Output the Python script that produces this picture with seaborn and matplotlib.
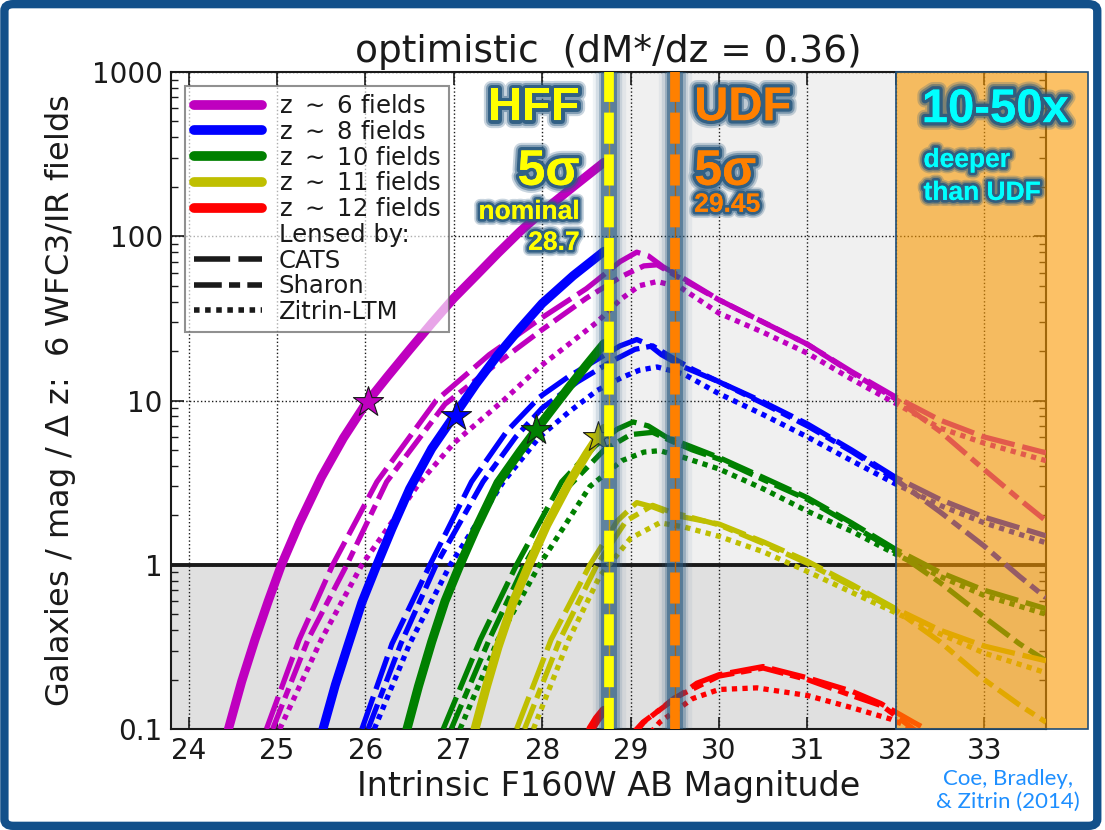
import matplotlib
matplotlib.use("Agg")
import matplotlib.pyplot as plt
import matplotlib.patheffects as pe
from matplotlib.lines import Line2D
from matplotlib.patches import Rectangle, FancyBboxPatch
from matplotlib.ticker import FuncFormatter
import seaborn as sns

sns.set_theme(style="ticks")
plt.rcParams["font.family"] = ["DejaVu Sans"]
plt.rcParams["mathtext.fontset"] = "dejavusans"
plt.rcParams["text.color"] = "black"
plt.rcParams["axes.labelcolor"] = "black"

# ---- data ----
z_labels = ["6", "8", "10", "11", "12"]
z_colors = ["#bf00bf", "#0000ff", "#008000", "#bfbf00", "#ff0000"]

# blank fields (solid)
fields_x = [
    [24.45, 24.6, 24.75, 24.9, 25.05, 25.25, 25.5, 25.75, 26.0, 26.25, 26.5, 26.75,
     27.0, 27.25, 27.5, 27.75, 28.0, 28.35, 28.7],
    [25.52, 25.66, 25.8, 25.96, 26.13, 26.3, 26.5, 26.75, 27.02, 27.25, 27.5, 27.75,
     28.0, 28.35, 28.7],
    [26.47, 26.6, 26.75, 26.9, 27.07, 27.25, 27.5, 27.75, 27.93, 28.1, 28.3, 28.5, 28.7],
    [27.24, 27.37, 27.5, 27.67, 27.85, 28.05, 28.31, 28.5, 28.63, 28.7],
    [28.55, 28.62, 28.7],
]
fields_y = [
    [0.1, 0.195, 0.35, 0.6, 1.0, 1.78, 3.4, 5.9, 9.5, 14, 20.4, 29.5,
     42, 57.5, 79, 107, 141, 200, 282],
    [0.1, 0.186, 0.32, 0.59, 1.0, 1.66, 2.9, 5.1, 8.3, 12.6, 19, 27.5,
     39, 57.5, 81],
    [0.1, 0.182, 0.34, 0.6, 1.0, 1.66, 3.16, 4.9, 6.6, 8.7, 12, 16.4, 22.2],
    [0.1, 0.182, 0.316, 0.59, 1.0, 1.74, 3.2, 4.7, 6.0, 6.76],
    [0.1, 0.115, 0.13],
]

# lensed by CATS
cats_x = [
    [24.88, 25.25, 25.63, 26.13, 26.8, 27.4, 28.0, 28.5, 28.62, 28.88, 29.07, 29.2, 29.37, 29.56, 30.0, 30.5, 31.0, 31.5, 32.0, 32.5, 33.0, 33.7],
    [25.96, 26.3, 26.73, 27.2, 27.6, 27.97, 28.3, 28.6, 28.88, 29.07, 29.2, 29.35, 29.6, 30.0, 30.5, 31.0, 31.5, 32.0, 32.5, 33.0, 33.7],
    [26.88, 27.3, 27.71, 28.22, 28.6, 28.85, 29.03, 29.2, 29.4, 29.7, 30.0, 30.5, 31.0, 31.5, 32.0, 32.5, 33.0, 33.7],
    [27.71, 28.1, 28.54, 28.85, 29.07, 29.25, 29.5, 30.0, 30.5, 31.0, 31.5, 32.0, 32.5, 33.0, 33.7],
    [28.95, 29.14, 29.45, 29.75, 30.0, 30.5, 31.0, 31.5, 31.83, 32.2, 32.5],
]
cats_y = [
    [0.1, 0.35, 1.0, 3.2, 10, 19, 32, 48, 54, 70, 80, 76, 65, 57, 41, 30, 22, 15, 10.5, 7.6, 6.0, 4.8],
    [0.1, 0.33, 1.0, 3.2, 6.5, 10.5, 14, 17.5, 21.5, 23.5, 22, 19, 16, 13, 9.8, 7.2, 5.0, 3.4, 2.5, 1.95, 1.5],
    [0.1, 0.35, 1.0, 3.2, 5.3, 6.7, 7.4, 7.0, 6.0, 5.2, 4.5, 3.4, 2.56, 1.8, 1.24, 0.9, 0.7, 0.54],
    [0.1, 0.35, 1.0, 1.85, 2.39, 2.25, 2.0, 1.77, 1.38, 1.05, 0.76, 0.54, 0.4, 0.32, 0.26],
    [0.085, 0.11, 0.146, 0.19, 0.214, 0.24, 0.205, 0.17, 0.143, 0.11, 0.09],
]

# lensed by Sharon
sharon_x = [
    [24.95, 25.35, 25.79, 26.24, 26.9, 27.5, 28.0, 28.5, 28.9, 29.15, 29.3, 29.5, 30.0, 30.5, 31.0, 31.5, 32.0, 32.5, 33.0, 33.4, 33.7],
    [26.03, 26.4, 26.8, 27.33, 27.7, 28.0, 28.4, 28.8, 29.05, 29.25, 29.45, 29.7, 30.0, 30.5, 31.0, 31.5, 32.0, 32.5, 33.0, 33.4, 33.7],
    [26.97, 27.4, 27.8, 28.3, 28.7, 29.0, 29.25, 29.45, 29.7, 30.0, 30.5, 31.0, 31.5, 32.0, 32.5, 33.0, 33.4, 33.7],
    [27.8, 28.2, 28.62, 28.95, 29.25, 29.45, 30.0, 30.5, 31.0, 31.5, 32.0, 32.5, 33.0, 33.4, 33.7],
    [28.98, 29.15, 29.5, 30.0, 30.5, 31.0, 31.5, 31.85, 32.2, 32.4],
]
sharon_y = [
    [0.1, 0.35, 1.0, 3.2, 9.5, 17, 27, 42, 57, 66, 67, 58, 41, 30, 22, 14.8, 10.2, 6.5, 3.8, 2.5, 1.85],
    [0.1, 0.33, 1.0, 3.2, 6.0, 9.0, 13, 17.5, 20.5, 21.5, 18.5, 15.5, 13, 9.6, 7.0, 4.9, 3.3, 2.1, 1.3, 0.85, 0.63],
    [0.1, 0.35, 1.0, 3.0, 5.0, 6.2, 6.4, 5.7, 5.0, 4.4, 3.3, 2.5, 1.75, 1.2, 0.78, 0.48, 0.33, 0.26],
    [0.1, 0.35, 1.0, 1.85, 2.3, 2.1, 1.75, 1.35, 1.02, 0.74, 0.53, 0.34, 0.2, 0.14, 0.11],
    [0.085, 0.11, 0.155, 0.21, 0.235, 0.2, 0.16, 0.138, 0.1, 0.085],
]

# lensed by Zitrin-LTM
zitrin_x = [
    [25.03, 25.5, 25.96, 26.62, 27.0, 27.56, 27.97, 28.3, 28.62, 28.88, 29.1, 29.3, 29.56, 30.0, 30.5, 31.0, 31.5, 32.0, 32.5, 33.0, 33.7],
    [26.1, 26.5, 26.96, 27.56, 27.97, 28.3, 28.62, 28.9, 29.1, 29.3, 29.6, 30.0, 30.5, 31.0, 31.5, 32.0, 32.5, 33.0, 33.7],
    [27.07, 27.5, 27.97, 28.54, 28.9, 29.15, 29.33, 29.6, 30.0, 30.5, 31.0, 31.5, 32.0, 32.5, 33.0, 33.7],
    [27.9, 28.3, 28.65, 29.0, 29.33, 29.6, 30.0, 30.5, 31.0, 31.5, 32.0, 32.5, 33.0, 33.7],
    [29.15, 29.33, 29.7, 30.0, 30.43, 31.0, 31.5, 31.94, 32.3],
]
zitrin_y = [
    [0.1, 0.35, 1.0, 3.2, 5.5, 10, 16, 22, 30, 41, 50, 53, 49, 34, 26, 19.4, 13.5, 9.6, 6.8, 5.5, 4.3],
    [0.1, 0.33, 1.0, 3.2, 6.0, 8.5, 11.5, 13.8, 15.3, 16, 14.5, 11, 8.2, 6.0, 4.3, 3.1, 2.3, 1.8, 1.36],
    [0.1, 0.35, 1.0, 3.0, 4.3, 4.85, 4.95, 4.5, 3.83, 2.9, 2.12, 1.6, 1.16, 0.85, 0.65, 0.5],
    [0.1, 0.35, 0.85, 1.45, 1.8, 1.7, 1.49, 1.2, 0.91, 0.68, 0.51, 0.38, 0.29, 0.22],
    [0.085, 0.11, 0.153, 0.174, 0.178, 0.16, 0.135, 0.115, 0.095],
]

# characteristic magnitudes (stars)
star_x = [26.03, 27.03, 27.93, 28.63]
star_y = [9.8, 8.1, 6.6, 6.0]

hff_limit = 28.75
udf_limit = 29.5
deep_limit = 32.0

# ---- styles ----
CATS_LS = (0, (6.5, 1.5))
SHARON_LS = (0, (5, 1.3, 2, 1.3))
ZITRIN_LS = (0, (1, 1))
GLOW = "#2a5a80"


def glow_effects(w=1.0):
    return [
        pe.withStroke(linewidth=11 * w, foreground=GLOW, alpha=0.25),
        pe.withStroke(linewidth=8 * w, foreground=GLOW, alpha=0.45),
        pe.withStroke(linewidth=5 * w, foreground=GLOW, alpha=0.9),
        pe.Normal(),
    ]


def draw_line(ax, x, y, color, lw, ls, z=3):
    sns.lineplot(x=x, y=y, ax=ax, color=color, lw=lw, linestyle=ls,
                 estimator=None, sort=False, zorder=z)


def draw_limit(ax, x, color, core):
    for w, a in [(24, 0.07), (19, 0.14), (15, 0.3), (11.5, 0.55)]:
        ax.axvline(x, color=GLOW, lw=w, alpha=a, zorder=5)
    ax.axvline(x, color=core, lw=1, zorder=5.5)
    ax.axvline(x, color=color, lw=7, linestyle=(0, (3.2, 1.1)), zorder=6)


def glow_text(ax, x, y, s, color, size, ha="left", w=1.0):
    ax.text(x, y, s, transform=ax.transAxes, color=color, fontsize=size,
            fontweight="bold", family=["Liberation Sans", "DejaVu Sans"],
            ha=ha, va="center", zorder=8, path_effects=glow_effects(w))


fig = plt.figure(figsize=(11.05, 8.3), dpi=100)
ax = fig.add_axes([171 / 1105, 1 - 729 / 830, 875 / 1105, 657 / 830])
ax.set_yscale("log")

# background shading
ax.axhspan(0.1, 1, color="#e0e0e0", lw=0, zorder=0.1)
ax.add_patch(Rectangle((hff_limit, 1), 33.7 - hff_limit, 999, color="#f0f0f0",
                       lw=0, zorder=0.1))
ax.grid(True, which="major", color="k", ls=":", lw=1)
ax.axhline(1, color="k", lw=2.8, zorder=2.6)

# curves
for i in range(len(z_labels)):
    c = z_colors[i]
    draw_line(ax, cats_x[i], cats_y[i], c, 3.8, CATS_LS)
    draw_line(ax, sharon_x[i], sharon_y[i], c, 3.8, SHARON_LS)
    draw_line(ax, zitrin_x[i], zitrin_y[i], c, 3.8, ZITRIN_LS)
    draw_line(ax, fields_x[i], fields_y[i], c, 6.5, "-", z=3.5)

for i in range(len(star_x)):
    sns.scatterplot(x=[star_x[i]], y=[star_y[i]], ax=ax, color=z_colors[i],
                    marker="*", s=520, edgecolor="k", linewidth=0.8, zorder=4)

# depth limits
draw_limit(ax, hff_limit, "#ffff00", "#c8a000")
draw_limit(ax, udf_limit, "#ff8000", "#b86000")

# 10-50x deeper region
ax.add_patch(Rectangle((deep_limit, 0.1), 2.17, 999.9, facecolor=(0.98, 0.6, 0.0, 0.6),
                       edgecolor="#1f4e79", lw=1.2, clip_on=False, zorder=7))

ax.set_xlim(23.8, 33.7)
ax.set_ylim(0.1, 1000)
ax.set_xticks(range(24, 34))
ax.xaxis.set_major_formatter(FuncFormatter(lambda v, p: f"{v:g}"))
ax.yaxis.set_major_formatter(FuncFormatter(lambda v, p: f"{v:g}"))
ax.tick_params(which="both", direction="in", top=True, right=True,
               labelsize=20, colors="k")
ax.tick_params(which="major", length=9, width=1.2, pad=6)
ax.tick_params(which="minor", length=5, width=1)
for sp in ax.spines.values():
    sp.set_linewidth(1.5)
    sp.set_color("k")

ax.set_title("optimistic  (dM*/dz = 0.36)", fontsize=27, pad=7, color="k")
ax.set_xlabel("Intrinsic F160W AB Magnitude", fontsize=24, labelpad=3, color="k")
ax.set_ylabel("Galaxies / mag / $\\Delta$ z:  6 WFC3/IR fields", fontsize=23,
              labelpad=10, color="k")

# annotations
glow_text(ax, 0.467, 0.945, "HFF", "#ffff00", 34, ha="right")
glow_text(ax, 0.467, 0.848, "5σ", "#ffff00", 36, ha="right")
glow_text(ax, 0.467, 0.787, "nominal", "#ffff00", 19, ha="right", w=0.8)
glow_text(ax, 0.467, 0.740, "28.7", "#ffff00", 19, ha="right", w=0.8)
glow_text(ax, 0.598, 0.945, "UDF", "#ff8000", 34)
glow_text(ax, 0.598, 0.848, "5σ", "#ff8000", 36)
glow_text(ax, 0.598, 0.798, "29.45", "#ff8000", 19, w=0.8)
glow_text(ax, 0.858, 0.942, "10-50x", "#00ffff", 34)
glow_text(ax, 0.860, 0.866, "deeper", "#00ffff", 19, w=0.8)
glow_text(ax, 0.860, 0.816, "than UDF", "#00ffff", 19, w=0.8)

# legend
handles = [Line2D([], [], color=c, lw=7) for c in z_colors]
labels = [f"z $\\sim$ {z} fields" for z in z_labels]
handles += [
    Line2D([], [], color="none"),
    Line2D([], [], color="k", lw=4, linestyle=CATS_LS),
    Line2D([], [], color="k", lw=4, linestyle=SHARON_LS),
    Line2D([], [], color="k", lw=4, linestyle=ZITRIN_LS),
]
labels += ["Lensed by:", "CATS", "Sharon", "Zitrin-LTM"]
leg = ax.legend(handles, labels, loc="upper left", bbox_to_anchor=(0.016, 0.979),
                borderaxespad=0, fontsize=17.5, handlelength=2.8, handletextpad=0.7,
                labelspacing=0.07, borderpad=0.35, framealpha=0.65, fancybox=False,
                edgecolor="#555555", labelcolor="k")
leg.get_frame().set_linewidth(1.5)
leg.set_zorder(9)

fig.text(0.912, 0.048, "Coe, Bradley,\n& Zitrin (2014)", color="#1e8fff",
         fontsize=16, ha="center", va="center", family=["Lato", "DejaVu Sans"],
         linespacing=1.2)

fig.patches.append(FancyBboxPatch((0.004, 0.005), 0.989, 0.99,
                                  boxstyle="round,pad=0,rounding_size=0.008",
                                  transform=fig.transFigure, fill=False,
                                  ec="#12508a", lw=6))

fig.savefig("out.png", dpi=100)
